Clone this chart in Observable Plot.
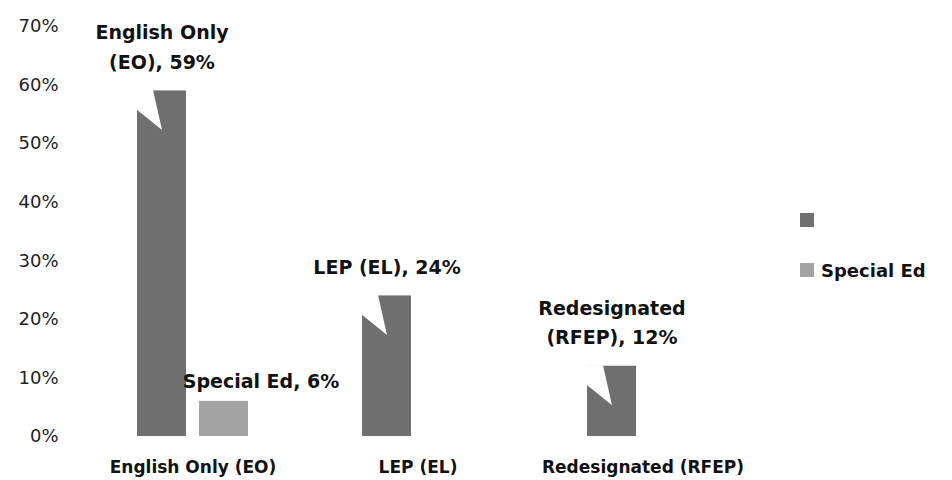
<!DOCTYPE html>
<html>
<head>
<meta charset="utf-8">
<script src="https://cdn.jsdelivr.net/npm/d3@7"></script>
<script src="https://cdn.jsdelivr.net/npm/@observablehq/plot@0.6"></script>
<style>
  html, body { margin: 0; padding: 0; background: #fff; }
  #wrap { position: relative; width: 952px; height: 480px; font-family: "DejaVu Sans", sans-serif; }
  .leg { position: absolute; display: flex; align-items: center; font-weight: bold; font-size: 18px; color: #111; }
  .sw { width: 14px; height: 14px; margin-right: 7px; }
</style>
</head>
<body>
<div id="wrap"></div>
<script>
// Data
const categories = ["English Only (EO)", "LEP (EL)", "Redesignated (RFEP)"];
const seriesNames = ["", "Special Ed"];
const mainValues = [0.59, 0.24, 0.12];
const specialEdValues = [0.06, null, null];
const mainLabels = ["English Only\n(EO), 59%", "LEP (EL), 24%", "Redesignated\n(RFEP), 12%"];
const specialEdLabels = ["Special Ed, 6%", null, null];
const yTicks = [0, 0.1, 0.2, 0.3, 0.4, 0.5, 0.6, 0.7];
const colors = ["#6f6f6f", "#a3a3a3"];

const mainRows = categories.map((c, i) => ({cat: c, series: seriesNames[0], value: mainValues[i], label: mainLabels[i]}));
const seRows = categories.map((c, i) => ({cat: c, series: seriesNames[1], value: specialEdValues[i], label: specialEdLabels[i]}))
  .filter(d => d.value != null);
const rows = mainRows.concat(seRows);

// Callout pointer notch (white) drawn at the top of each main bar
const notch = {
  draw(ctx) {
    ctx.moveTo(-26, -1);
    ctx.lineTo(-9, -1);
    ctx.lineTo(0, 39);
    ctx.lineTo(-26, 18);
    ctx.closePath();
  }
};

const chart = Plot.plot({
  width: 952,
  height: 480,
  marginLeft: 80,
  marginRight: 197,
  marginTop: 26,
  marginBottom: 44,
  style: {fontFamily: "DejaVu Sans, sans-serif", background: "#fff"},
  fx: {domain: categories, padding: 0, label: null},
  x: {domain: seriesNames, paddingInner: 0.206, paddingOuter: 0.889, axis: null},
  y: {domain: [0, 0.7], label: null},
  color: {domain: seriesNames, range: colors},
  marks: [
    Plot.axisY({ticks: yTicks, tickFormat: d => Math.round(d * 100) + "%", tickSize: 0, tickPadding: 22, fontSize: 18, label: null, fill: "#222"}),
    Plot.axisFx({anchor: "bottom", tickSize: 0, tickPadding: 24, fontSize: 17, fontWeight: "bold", label: null, fill: "#111"}),
    Plot.barY(rows, {fx: "cat", x: "series", y: "value", fill: "series"}),
    Plot.dot(mainRows, {fx: "cat", x: "series", y: "value", symbol: notch, fill: "white", stroke: null, r: 5}),
    Plot.text(mainRows, {fx: "cat", x: "series", y: "value", text: "label", lineAnchor: "bottom", dy: -22, fontSize: 19, fontWeight: "bold", lineHeight: 1.55, fill: "#111"}),
    Plot.text(seRows, {fx: "cat", x: "series", y: "value", text: "label", lineAnchor: "bottom", dy: -13, dx: 37, fontSize: 19, fontWeight: "bold", fill: "#111"})
  ]
});

const wrap = document.getElementById("wrap");
wrap.appendChild(chart);

// Legend on the right
seriesNames.forEach((name, i) => {
  const item = document.createElement("div");
  item.className = "leg";
  item.style.left = "800px";
  item.style.top = (i === 0 ? 209 : 259) + "px";
  item.style.height = "22px";
  const sw = document.createElement("div");
  sw.className = "sw";
  sw.style.background = colors[i];
  item.appendChild(sw);
  const t = document.createElement("span");
  t.textContent = name;
  item.appendChild(t);
  wrap.appendChild(item);
});
</script>
</body>
</html>
